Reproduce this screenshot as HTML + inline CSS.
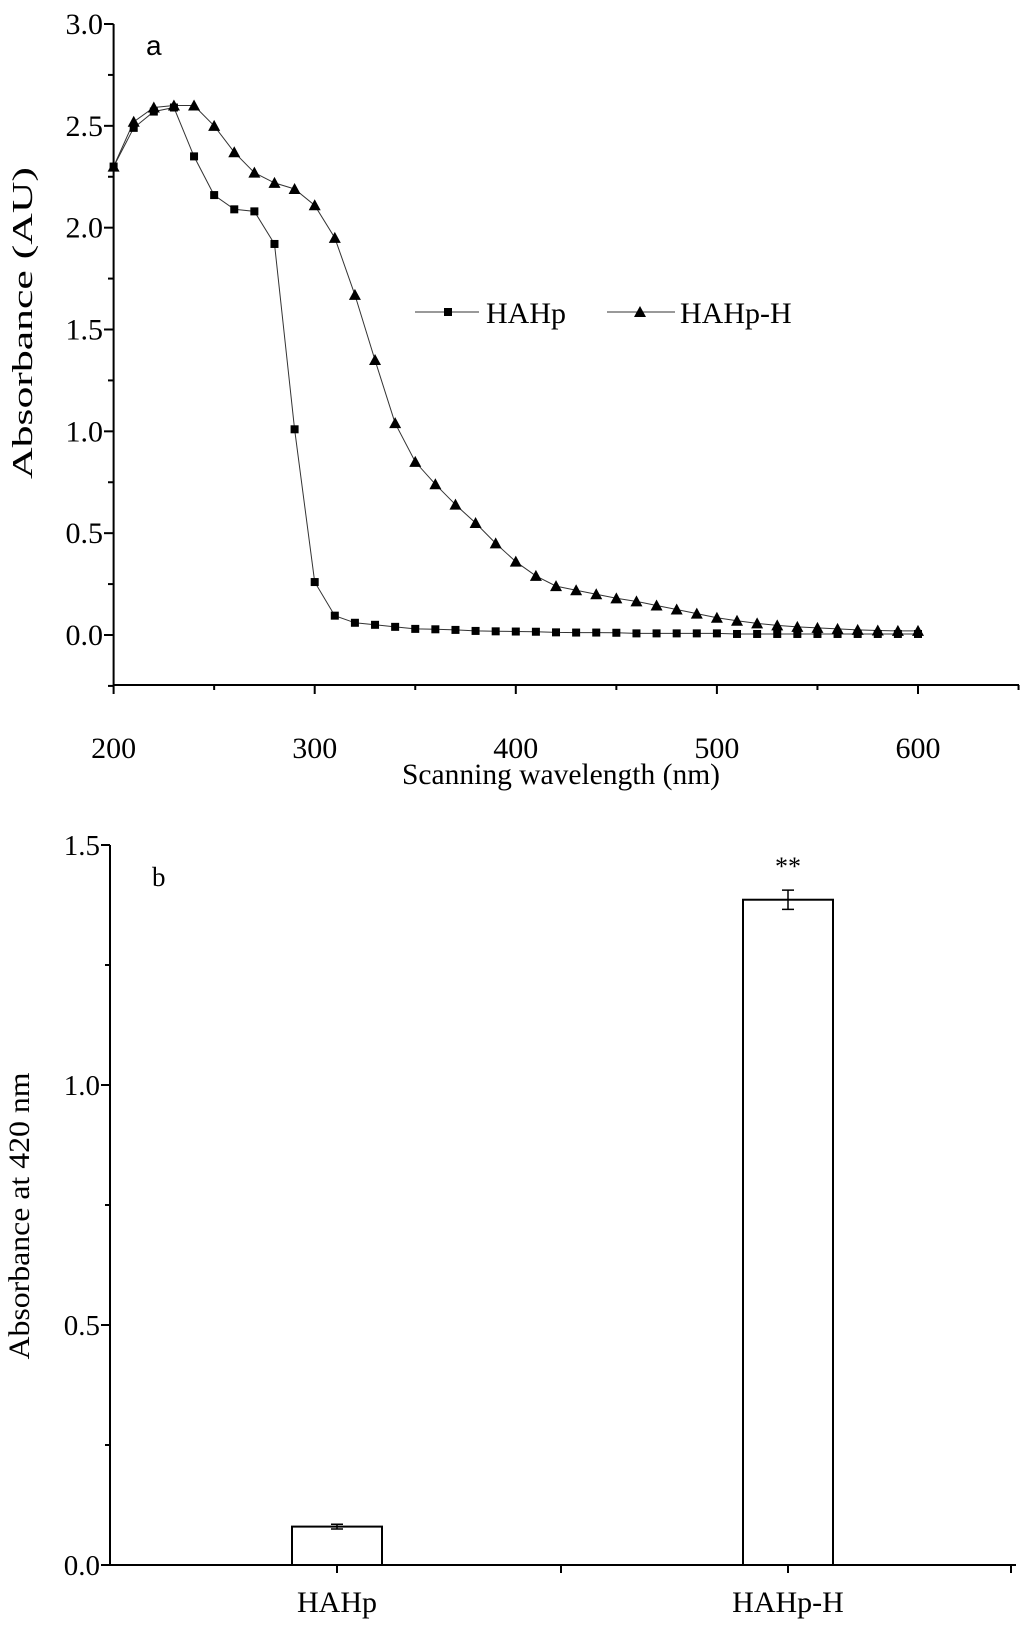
<!DOCTYPE html>
<html><head><meta charset="utf-8">
<style>
html,body{margin:0;padding:0;background:#fff;}
svg{display:block;font-family:"Liberation Serif",serif;}
</style></head>
<body>
<svg id="chart" width="1024" height="1633" viewBox="0 0 1024 1633" xmlns="http://www.w3.org/2000/svg">
  <rect width="1024" height="1633" fill="#fff"/>
  <g id="panelA"></g>
  <g id="panelB"></g>
</svg>
<script>
// ---- Panel a data ----
const wavelengths = [200,210,220,230,240,250,260,270,280,290,300,310,320,330,340,350,360,370,380,390,400,410,420,430,440,450,460,470,480,490,500,510,520,530,540,550,560,570,580,590,600];
const hahpValues = [2.30,2.49,2.57,2.59,2.35,2.16,2.09,2.08,1.92,1.01,0.26,0.095,0.06,0.05,0.04,0.03,0.028,0.025,0.02,0.018,0.017,0.016,0.013,0.012,0.012,0.011,0.008,0.008,0.008,0.008,0.008,0.005,0.005,0.005,0.005,0.005,0.005,0.005,0.005,0.005,0.005];
const hahpHValues = [2.30,2.52,2.59,2.60,2.60,2.50,2.37,2.27,2.22,2.19,2.11,1.95,1.67,1.35,1.04,0.85,0.74,0.64,0.55,0.45,0.36,0.29,0.24,0.22,0.20,0.18,0.165,0.145,0.125,0.105,0.085,0.07,0.057,0.047,0.04,0.035,0.03,0.025,0.022,0.02,0.02];
const xTicksA = [200,300,400,500,600];
const yTicksA = [0.0,0.5,1.0,1.5,2.0,2.5,3.0];
// ---- Panel b data ----
const barCategories = ["HAHp","HAHp-H"];
const barValues = [0.08,1.386];
const barErrors = [0.005,0.02];
const yTicksB = [0.0,0.5,1.0,1.5];

const NS = "http://www.w3.org/2000/svg";
function mk(parent, tag, attrs, text){
  const e = document.createElementNS(NS, tag);
  for (const k in attrs) e.setAttribute(k, attrs[k]);
  if (text !== undefined) e.textContent = text;
  parent.appendChild(e);
  return e;
}

// ===== Panel a =====
const A = document.getElementById("panelA");
const ax = v => 113.6 + (v - 200) * (918 - 113.6) / 400;
const ay = v => 635 - v * (635 - 24) / 3;
const axisA = mk(A, "path", {d:`M113.6,24 V685 H1019`, fill:"none", stroke:"#000", "stroke-width":2});


for (let v = 200; v <= 650; v += 50){
  const t = mk(A, "line", {x1:ax(v), x2:ax(v), y1:685, y2: v % 100 === 0 ? 694 : 690, stroke:"#000", "stroke-width":2});
  
  
}
xTicksA.forEach(v => {
  const t = mk(A, "text", {x:ax(v), y:758, "font-size":30, "text-anchor":"middle"}, String(v));
  
  
});
for (let v = -0.25; v <= 3.0001; v += 0.25){
  const t = mk(A, "line", {x1:113.6, x2: Math.abs((v*2) - Math.round(v*2)) < 1e-6 ? 104 : 108, y1:ay(v), y2:ay(v), stroke:"#000", "stroke-width":2});
  
  
}
yTicksA.forEach(v => {
  const t = mk(A, "text", {x:103, y:ay(v)+10, "font-size":30, "text-anchor":"end"}, v.toFixed(1));
  
  
});
let t1 = mk(A, "text", {x:561, y:784, "font-size":30, "text-anchor":"middle", textLength:318, lengthAdjust:"spacingAndGlyphs"}, "Scanning wavelength (nm)");


let t2 = mk(A, "text", {x:0, y:0, "font-size":29, "text-anchor":"middle", textLength:312, lengthAdjust:"spacingAndGlyphs", transform:"translate(32,323) rotate(-90)"}, "Absorbance (AU)");


let t3 = mk(A, "text", {x:146, y:55, "font-size":28, "font-family":"Liberation Sans, sans-serif"}, "a");



function linePts(vals){ return vals.map((v,i)=>`${ax(wavelengths[i]).toFixed(1)},${ay(v).toFixed(1)}`).join(" "); }
const l1 = mk(A, "polyline", {points:linePts(hahpValues), fill:"none", stroke:"#333", "stroke-width":1});


const l2 = mk(A, "polyline", {points:linePts(hahpHValues), fill:"none", stroke:"#333", "stroke-width":1});


function sq(g, cx, cy){ return mk(g, "rect", {x:cx-4, y:cy-4, width:8, height:8, fill:"#000"}); }
function tri(g, cx, cy){ return mk(g, "polygon", {points:`${cx},${cy-6} ${cx-6},${cy+5} ${cx+6},${cy+5}`, fill:"#000"}); }
hahpValues.forEach((v,i) => {
  const m = sq(A, ax(wavelengths[i]), ay(v));
  
  
});
hahpHValues.forEach((v,i) => {
  const m = tri(A, ax(wavelengths[i]), ay(v));
  
  
});
// legend
const lg = mk(A, "g", {});


const le1 = mk(lg, "g", {});


mk(le1, "line", {x1:415, x2:479, y1:312, y2:312, stroke:"#333", "stroke-width":1});
sq(le1, 448, 312);
mk(le1, "text", {x:486, y:323, "font-size":30}, "HAHp");
const le2 = mk(lg, "g", {});


mk(le2, "line", {x1:607, x2:675, y1:312, y2:312, stroke:"#333", "stroke-width":1});
tri(le2, 640, 312);
mk(le2, "text", {x:680, y:323, "font-size":30}, "HAHp-H");

// ===== Panel b =====
const B = document.getElementById("panelB");
const by = v => 1565 - v * (1565 - 845) / 1.5;
const catX = [337, 788];
const axisB = mk(B, "path", {d:`M110,845 V1565 H1016`, fill:"none", stroke:"#000", "stroke-width":2});


[337,561,788,1011].forEach(x => {
  const t = mk(B, "line", {x1:x, x2:x, y1:1565, y2:1573, stroke:"#000", "stroke-width":2});
  
  
});
for (let v = 0; v <= 1.5001; v += 0.25){
  const major = Math.abs(v*2 - Math.round(v*2)) < 1e-6;
  const t = mk(B, "line", {x1:110, x2: major ? 101 : 105, y1:by(v), y2:by(v), stroke:"#000", "stroke-width":2});
  
  
}
yTicksB.forEach(v => {
  const t = mk(B, "text", {x:100, y:by(v)+10, "font-size":29, "text-anchor":"end"}, v.toFixed(1));
  
  
});
barCategories.forEach((c,i) => {
  const x = catX[i];
  const bar = mk(B, "rect", {x:x-45, y:by(barValues[i]), width:90, height:by(0)-by(barValues[i]), fill:"#fff", stroke:"#000", "stroke-width":2});
  
  
  const e = mk(B, "path", {d:`M${x},${by(barValues[i]+barErrors[i])} V${by(barValues[i]-barErrors[i])} M${x-6},${by(barValues[i]+barErrors[i])} H${x+6} M${x-6},${by(barValues[i]-barErrors[i])} H${x+6}`, fill:"none", stroke:"#000", "stroke-width":1.5});
  
  
  const l = mk(B, "text", {x:x, y:1612, "font-size":30, "text-anchor":"middle"}, c);
  
  
});
let s1 = mk(B, "text", {x:788, y:875, "font-size":26, "text-anchor":"middle"}, "**");


let s2 = mk(B, "text", {x:152, y:886, "font-size":27}, "b");


let s3 = mk(B, "text", {x:0, y:0, "font-size":30, "text-anchor":"middle", textLength:287, lengthAdjust:"spacingAndGlyphs", transform:"translate(29,1216) rotate(-90)"}, "Absorbance at 420 nm");


</script>
</body></html>
